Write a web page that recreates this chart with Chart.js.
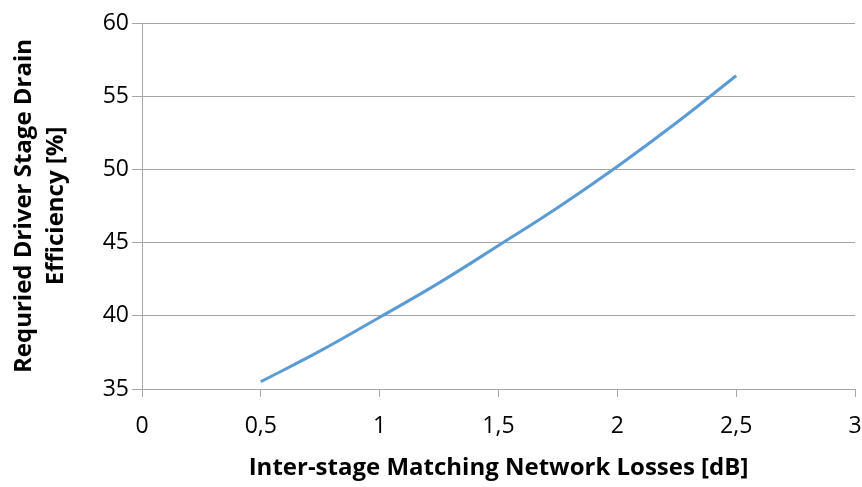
<!DOCTYPE html>
<html>
<head>
<meta charset="utf-8">
<script src="https://cdn.jsdelivr.net/npm/chart.js@4/dist/chart.umd.min.js"></script>
<style>
    html, body { margin: 0; padding: 0; background: #ffffff; }
    #wrap { width: 862px; height: 487px; }
</style>
</head>
<body>
<div id="wrap"><canvas id="lossChart" width="862" height="487"></canvas></div>
<script>
// values
const lossDb = [0.5, 0.75, 1, 1.25, 1.5, 1.75, 2, 2.25, 2.5];
const efficiency = [35.5, 37.6, 39.9, 42.25, 44.8, 47.4, 50.2, 53.2, 56.4];
const xTickLabels = ['0', '0,5', '1', '1,5', '2', '2,5', '3'];
const yTickLabels = ['35', '40', '45', '50', '55', '60'];

const fontFamily = '"Open Sans", sans-serif';
const gridColor = '#a6a6a6';

const ctx = document.getElementById('lossChart').getContext('2d');
const chart = new Chart(ctx, {
    type: 'line',
    data: {
        datasets: [{
            data: lossDb.map((x, i) => ({ x: x, y: efficiency[i] })),
            borderColor: '#5b9bd5',
            borderWidth: 3,
            pointRadius: 0,
            tension: 0.4,
            fill: false
        }]
    },
    options: {
        responsive: false,
        animation: false,
        layout: { padding: { top: 23, right: 7, left: 0, bottom: 0 } },
        plugins: { legend: { display: false }, tooltip: { enabled: false } },
        scales: {
            x: {
                type: 'linear',
                min: 0,
                max: 3,
                ticks: {
                    stepSize: 0.5,
                    color: '#000',
                    padding: 16,
                    maxRotation: 0,
                    font: { family: fontFamily, size: 23 },
                    callback: (v, i) => xTickLabels[i]
                },
                grid: { drawOnChartArea: false, drawTicks: true, tickLength: 8, color: gridColor },
                border: { color: gridColor, width: 1 },
                title: {
                    display: true,
                    text: 'Inter-stage Matching Network Losses [dB]',
                    color: '#000',
                    font: { family: fontFamily, size: 24, weight: 'bold' },
                    padding: { top: 0, bottom: 4 }
                },
                afterFit: (scale) => {
                    scale.height = 98;
                    scale.paddingLeft = 0;
                    scale.paddingRight = 0;
                }
            },
            y: {
                min: 35,
                max: 60,
                ticks: {
                    stepSize: 5,
                    color: '#000',
                    padding: 3,
                    font: { family: fontFamily, size: 23 },
                    callback: (v, i) => yTickLabels[i]
                },
                grid: { color: gridColor, tickLength: 10, lineWidth: 1 },
                border: { color: gridColor, width: 1 },
                title: {
                    display: true,
                    text: ['Requried Driver Stage Drain', 'Efficiency [%]'],
                    color: '#000',
                    font: { family: fontFamily, size: 24, weight: 'bold', lineHeight: 1.35 },
                    padding: { top: 8, bottom: 0 }
                },
                afterFit: (scale) => { scale.width = 142; }
            }
        }
    }
});
</script>
</body>
</html>
